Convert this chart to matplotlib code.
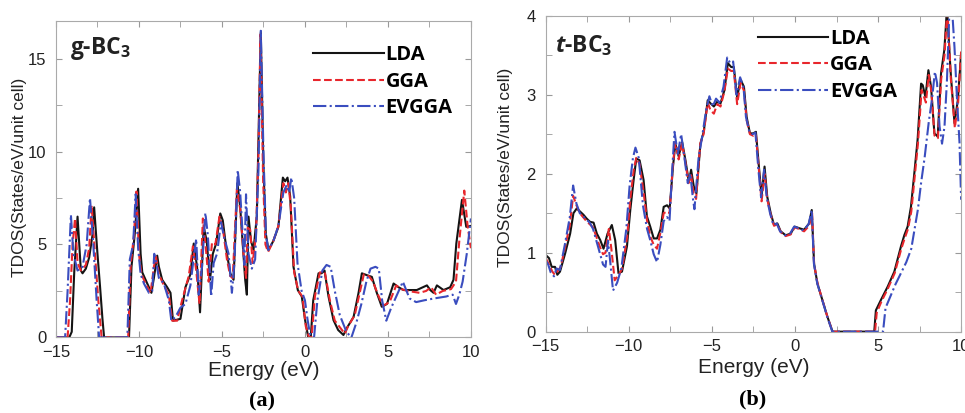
import numpy as np
import matplotlib
matplotlib.use("Agg")
import matplotlib.pyplot as plt
from matplotlib.ticker import MultipleLocator

plt.rcParams['font.family'] = ['Liberation Sans', 'DejaVu Sans']
plt.rcParams['mathtext.fontset'] = 'custom'
plt.rcParams['mathtext.rm'] = 'Open Sans:bold'
plt.rcParams['mathtext.bf'] = 'Open Sans:bold'
plt.rcParams['mathtext.it'] = 'Open Sans:italic:bold'

# ---- g-BC3 total DOS ----
e_lda_a = [-15.0, -14.2, -14.05, -13.9, -13.7, -13.5, -13.4, -13.2, -13.0, -12.8, -12.7, -12.5, -12.35, -12.2, -12.1,
           -10.6, -10.45, -10.25, -10.05, -9.9, -9.8, -9.55, -9.25, -9.1, -8.9, -8.8, -8.6, -8.3, -8.1, -7.95,
           -7.5, -7.2, -6.9, -6.7, -6.5, -6.32, -6.1, -5.92, -5.72, -5.55, -5.35, -5.1, -4.95, -4.7, -4.5,
           -4.3, -4.07, -3.9, -3.6, -3.5, -3.4, -3.25, -3.1, -2.9, -2.78, -2.66, -2.5, -2.36, -2.2, -1.9,
           -1.6, -1.33, -1.19, -1.05, -0.89, -0.69, -0.43, -0.19, 0.01, 0.2, 0.35, 0.5, 0.82, 1.0, 1.18,
           1.42, 1.72, 2.0, 2.32, 2.52, 2.93, 3.23, 3.43, 3.73, 4.03, 4.33, 4.63, 4.94, 5.34, 5.64,
           5.94, 6.74, 7.35, 7.55, 7.75, 7.95, 8.35, 8.75, 8.95, 9.12, 9.46, 9.72, 10.0]
d_lda_a = [0, 0, 0.3, 3.5, 6.5, 3.6, 3.45, 3.7, 4.3, 5.5, 7.0, 4.5, 2.8, 1.0, 0,
           0, 3.8, 5.6, 8.0, 4.5, 3.5, 3.0, 2.4, 3.2, 4.4, 3.8, 3.1, 2.7, 2.4, 0.9,
           1.0, 2.7, 3.4, 5.05, 3.8, 1.35, 5.95, 5.2, 3.1, 4.5, 5.05, 6.67, 6.3, 4.5, 3.45,
           3.1, 8.3, 7.0, 3.1, 2.3, 6.5, 5.2, 4.7, 6.5, 11.5, 16.4, 9.2, 5.6, 4.7, 5.2,
           5.95, 8.6, 8.4, 8.6, 7.6, 3.8, 2.55, 2.2, 0.93, 0, 0, 2.0, 3.45, 3.45, 3.6,
           2.2, 0.93, 0.4, 0.13, 0.5, 1.1, 2.4, 3.45, 3.35, 3.26, 2.4, 1.65, 1.8, 2.9, 2.7,
           2.55, 2.55, 2.8, 2.55, 2.4, 2.8, 2.55, 2.7, 3.1, 5.05, 7.4, 5.95, 6.0]

e_gga_a = [-15.0, -14.3, -14.15, -14.0, -13.85, -13.7, -13.5, -13.2, -13.0, -12.85, -12.65, -12.45, -12.25,
           -10.65, -10.5, -10.3, -10.15, -10.0, -9.85, -9.6, -9.3, -9.1, -8.98, -8.8, -8.5, -8.2, -8.0,
           -7.7, -7.4, -7.0, -6.75, -6.55, -6.35, -6.15, -5.95, -5.8, -5.6, -5.4, -5.15, -4.95, -4.7,
           -4.5, -4.35, -4.1, -3.9, -3.7, -3.55, -3.45, -3.3, -3.15, -2.95, -2.8, -2.68, -2.52, -2.38,
           -2.22, -1.9, -1.6, -1.3, -1.15, -1.0, -0.85, -0.65, -0.4, -0.15, 0.05, 0.25, 0.4, 0.6, 0.9,
           1.2, 1.5, 1.8, 2.4, 2.6, 3.0, 3.35, 3.55, 3.85, 4.1, 4.4, 4.7, 5.1, 5.5, 5.8, 6.2, 6.9,
           7.3, 7.6, 7.9, 8.3, 8.8, 9.1, 9.3, 9.6, 9.8, 10.0]
d_gga_a = [0, 0, 2.0, 5.0, 6.4, 4.0, 3.6, 3.9, 4.8, 7.1, 4.5, 2.0, 0,
           0, 3.9, 5.5, 7.85, 4.5, 3.4, 2.9, 2.4, 3.8, 4.35, 3.4, 2.8, 2.3, 0.9,
           0.9, 2.0, 3.3, 4.9, 3.6, 1.8, 6.4, 4.6, 3.0, 5.1, 5.0, 6.5, 5.9, 4.2,
           3.3, 3.2, 8.0, 6.9, 4.5, 3.2, 5.9, 5.8, 4.0, 5.5, 10.0, 16.3, 8.5, 5.0,
           4.6, 5.2, 6.0, 8.3, 7.8, 8.3, 7.0, 3.5, 2.5, 2.2, 0.6, 0, 0, 2.2, 3.5,
           3.5, 2.0, 0.9, 0.2, 0.6, 1.2, 2.6, 3.4, 3.3, 3.0, 2.3, 1.7, 1.9, 2.8, 2.6, 2.5, 2.4,
           2.5, 2.7, 2.3, 2.5, 2.6, 3.0, 5.2, 7.9, 6.0, 4.8]

e_ev_a = [-15.0, -14.45, -14.3, -14.1, -13.95, -13.7, -13.4, -13.15, -12.95, -12.75, -12.55, -12.4,
          -10.7, -10.55, -10.35, -10.2, -10.05, -9.9, -9.7, -9.4, -9.2, -9.08, -8.95, -8.8, -8.5, -8.2,
          -8.05, -7.8, -7.5, -7.2, -6.9, -6.7, -6.55, -6.4, -6.2, -6.0, -5.85, -5.65, -5.5, -5.3, -5.05,
          -4.9, -4.6, -4.4, -4.25, -4.05, -3.9, -3.75, -3.65, -3.55, -3.4, -3.2, -3.0, -2.8, -2.66, -2.5,
          -2.35, -2.2, -1.9, -1.6, -1.3, -1.1, -0.95, -0.82, -0.65, -0.45, -0.2, 0.0, 0.15, 0.3, 0.55,
          0.75, 1.05, 1.3, 1.55, 1.8, 2.1, 2.5, 2.8, 3.1, 3.4, 3.7, 3.95, 4.25, 4.45, 4.65, 4.9, 5.2,
          5.5, 5.9, 6.3, 6.7, 7.2, 7.8, 8.5, 8.9, 9.1, 9.3, 9.5, 9.75, 10.0]
d_ev_a = [0, 0, 2.5, 6.6, 4.5, 3.6, 3.8, 5.0, 7.5, 5.0, 2.0, 0,
          0, 4.2, 5.0, 7.7, 4.8, 3.4, 2.9, 2.4, 2.5, 4.5, 4.0, 3.2, 2.9, 2.0,
          0.9, 1.1, 1.6, 1.8, 2.8, 4.3, 5.3, 2.3, 3.8, 6.7, 5.5, 2.2, 4.0, 4.5, 6.2,
          5.5, 4.5, 2.4, 4.0, 9.0, 7.8, 5.5, 3.9, 7.7, 4.5, 3.7, 4.2, 9.0, 16.5, 10.0,
          5.5, 4.7, 5.2, 6.0, 7.8, 8.2, 7.8, 8.6, 7.5, 4.0, 2.5, 2.0, 1.0, 0.2, 0,
          2.0, 3.6, 3.9, 3.8, 2.5, 1.2, 0.3, 0.0, 0.8, 1.8, 3.0, 3.7, 3.8, 3.7, 2.0, 0.9, 1.6,
          2.2, 3.0, 2.1, 1.9, 2.0, 2.1, 2.2, 2.3, 1.8, 2.3, 3.0, 4.5, 6.4]

# ---- t-BC3 total DOS ----
e_lda_b = [-15.0, -14.8, -14.64, -14.44, -14.3, -14.14, -13.83, -13.53, -13.33, -13.13, -12.93, -12.73, -12.53,
           -12.33, -12.12, -11.92, -11.72, -11.52, -11.28, -11.02, -10.82, -10.62, -10.41, -10.11, -9.91, -9.71,
           -9.55, -9.35, -9.11, -8.91, -8.71, -8.5, -8.3, -8.1, -7.9, -7.7, -7.54, -7.34, -7.2, -7.0, -6.79,
           -6.59, -6.39, -6.25, -6.09, -5.93, -5.69, -5.49, -5.25, -5.08, -4.88, -4.68, -4.48, -4.24, -4.04,
           -3.84, -3.68, -3.48, -3.27, -3.07, -2.91, -2.71, -2.51, -2.35, -2.17, -2.01, -1.83, -1.67, -1.46,
           -1.26, -1.06, -0.86, -0.56, -0.26, -0.02, 0.25, 0.55, 0.85, 1.01, 1.15, 1.35, 1.65, 1.95, 2.26,
           4.77, 4.87, 5.17, 5.58, 5.98, 6.38, 6.58, 6.78, 6.98, 7.18, 7.38, 7.59, 7.69, 7.85, 8.03, 8.19,
           8.39, 8.59, 8.79, 8.99, 9.15, 9.36, 9.6, 9.8, 10.0]
d_lda_b = [0.97, 0.93, 0.82, 0.82, 0.72, 0.76, 0.99, 1.24, 1.5, 1.56, 1.52, 1.48, 1.43,
           1.39, 1.38, 1.24, 1.16, 1.05, 1.24, 1.35, 1.16, 0.74, 0.76, 1.08, 1.54, 1.92,
           2.19, 2.17, 1.92, 1.46, 1.33, 1.18, 1.18, 1.29, 1.58, 1.6, 1.56, 2.09, 2.38, 2.22, 2.4,
           2.17, 1.9, 2.05, 1.84, 1.75, 2.38, 2.53, 2.93, 2.89, 2.85, 2.91, 2.89, 3.06, 3.4,
           3.35, 3.35, 2.97, 3.19, 3.1, 2.72, 2.51, 2.51, 2.53, 2.09, 1.71, 2.09, 1.71, 1.5,
           1.35, 1.37, 1.27, 1.22, 1.24, 1.33, 1.31, 1.29, 1.37, 1.54, 0.86, 0.61, 0.4, 0.19, 0,
           0, 0.27, 0.4, 0.57, 0.76, 1.08, 1.22, 1.33, 1.58, 2.0, 2.43, 3.14, 3.12, 2.97, 3.31, 3.1,
           2.51, 2.47, 3.27, 3.57, 4.1, 3.31, 2.64, 2.93, 3.52]

e_gga_b = [-15.0, -14.8, -14.6, -14.45, -14.3, -14.1, -13.85, -13.55, -13.35, -13.15, -12.95, -12.75, -12.55,
           -12.35, -12.15, -11.95, -11.75, -11.55, -11.4, -11.2, -11.05, -10.85, -10.6, -10.4, -10.1, -9.9,
           -9.7, -9.55, -9.35, -9.1, -8.9, -8.7, -8.5, -8.3, -8.1, -7.9, -7.7, -7.55, -7.35, -7.2, -7.0,
           -6.8, -6.6, -6.4, -6.25, -6.1, -5.95, -5.7, -5.5, -5.25, -5.08, -4.88, -4.68, -4.48, -4.24,
           -4.04, -3.84, -3.68, -3.48, -3.27, -3.07, -2.91, -2.71, -2.51, -2.35, -2.17, -2.01, -1.83, -1.67,
           -1.46, -1.26, -1.06, -0.86, -0.56, -0.26, -0.02, 0.25, 0.55, 0.85, 1.03, 1.15, 1.35, 1.65, 1.95,
           2.26, 4.82, 4.92, 5.2, 5.6, 6.0, 6.4, 6.6, 6.8, 7.0, 7.2, 7.4, 7.62, 7.72, 7.88, 8.05, 8.2,
           8.4, 8.6, 8.8, 9.0, 9.17, 9.38, 9.62, 9.82, 10.0]
d_gga_b = [0.93, 0.85, 0.76, 0.72, 0.76, 0.82, 1.05, 1.35, 1.72, 1.6, 1.5, 1.45, 1.4,
           1.36, 1.32, 1.2, 1.08, 0.98, 1.0, 1.3, 1.05, 0.65, 0.72, 0.8, 1.2, 1.7,
           2.05, 2.2, 2.12, 1.75, 1.4, 1.2, 1.1, 1.05, 1.25, 1.5, 1.52, 1.5, 2.1, 2.4, 2.18,
           2.38, 2.15, 1.88, 1.98, 1.75, 1.68, 2.38, 2.5, 2.9, 2.8, 2.76, 2.88, 2.85, 3.05,
           3.33, 3.3, 3.3, 2.88, 3.15, 3.05, 2.68, 2.5, 2.48, 2.5, 2.05, 1.65, 2.0, 1.68,
           1.48, 1.34, 1.36, 1.26, 1.21, 1.23, 1.32, 1.3, 1.27, 1.34, 1.5, 0.86, 0.62, 0.4, 0.19,
           0, 0, 0.24, 0.38, 0.55, 0.74, 1.05, 1.18, 1.3, 1.52, 1.95, 2.38, 3.06, 3.0, 2.9, 3.25, 3.05,
           2.48, 2.45, 3.2, 3.5, 4.1, 3.2, 2.58, 2.9, 3.55]

e_ev_b = [-15.0, -14.85, -14.7, -14.5, -14.35, -14.15, -13.85, -13.55, -13.35, -13.15, -12.95, -12.75, -12.55,
          -12.35, -12.15, -11.95, -11.75, -11.55, -11.4, -11.25, -11.1, -10.95, -10.7, -10.45, -10.15, -9.95,
          -9.75, -9.6, -9.4, -9.15, -8.9, -8.7, -8.5, -8.3, -8.1, -7.9, -7.7, -7.55, -7.4, -7.25, -7.05,
          -6.85, -6.65, -6.45, -6.3, -6.15, -6.05, -5.8, -5.6, -5.35, -5.15, -4.95, -4.75, -4.55, -4.3,
          -4.08, -3.9, -3.72, -3.52, -3.3, -3.1, -2.95, -2.75, -2.55, -2.38, -2.2, -2.04, -1.86, -1.7,
          -1.5, -1.3, -1.1, -0.9, -0.6, -0.3, -0.05, 0.22, 0.52, 0.82, 1.01, 1.14, 1.34, 1.64, 1.94,
          2.25, 5.3, 5.45, 5.75, 6.05, 6.4, 6.7, 7.0, 7.2, 7.4, 7.6, 7.8, 8.05, 8.25, 8.42, 8.55, 8.7,
          8.85, 9.0, 9.15, 9.3, 9.45, 9.6, 9.75, 9.9, 10.0]
d_ev_b = [0.9, 0.85, 0.75, 0.7, 0.8, 0.78, 1.1, 1.45, 1.85, 1.62, 1.5, 1.46, 1.42,
          1.38, 1.3, 1.15, 1.0, 0.85, 0.82, 1.15, 0.85, 0.52, 0.62, 0.8, 1.3, 1.85,
          2.2, 2.33, 2.2, 1.6, 1.3, 1.15, 0.98, 0.88, 1.1, 1.4, 1.45, 1.4, 2.0, 2.53, 2.25,
          2.5, 2.2, 1.88, 2.0, 1.7, 1.55, 2.2, 2.45, 2.8, 2.98, 2.85, 2.95, 2.9, 3.1,
          3.47, 3.4, 3.42, 3.0, 3.22, 3.1, 2.72, 2.53, 2.5, 2.52, 2.05, 1.7, 2.05, 1.7,
          1.5, 1.35, 1.37, 1.27, 1.22, 1.24, 1.33, 1.31, 1.28, 1.36, 1.54, 0.86, 0.61, 0.4, 0.19,
          0, 0, 0.3, 0.45, 0.6, 0.75, 0.88, 1.05, 1.3, 1.55, 1.9, 2.2, 2.65, 2.95, 3.29, 3.15, 2.6,
          2.38, 2.6, 3.2, 4.1, 4.1, 3.6, 2.95, 2.4, 1.67]

labels = ['LDA', 'GGA', 'EVGGA']
colors = ['#141414', '#e8262c', '#3a4dbf']
styles = ['-', '--', '-.']

fig = plt.figure(figsize=(9.65, 4.13), dpi=100)
ax1 = fig.add_axes([0.058, 0.183, 0.430, 0.765])
ax2 = fig.add_axes([0.5655, 0.197, 0.4305, 0.765])

panels = [
    (ax1, [(e_lda_a, d_lda_a), (e_gga_a, d_gga_a), (e_ev_a, d_ev_a)], 17, 5, 2.5),
    (ax2, [(e_lda_b, d_lda_b), (e_gga_b, d_gga_b), (e_ev_b, d_ev_b)], 4, 1, 0.5),
]

for ax, series, ytop, ymaj, ymin in panels:
    for (e, d), lab, c, ls in zip(series, labels, colors, styles):
        ax.plot(e, d, ls, color=c, lw=1.5, label=lab)
    ax.set_xlim(-15, 10)
    ax.set_ylim(0, ytop)
    ax.xaxis.set_major_locator(MultipleLocator(5))
    ax.xaxis.set_minor_locator(MultipleLocator(2.5))
    ax.yaxis.set_major_locator(MultipleLocator(ymaj))
    ax.yaxis.set_minor_locator(MultipleLocator(ymin))
    ax.tick_params(which='both', direction='in', top=True, right=True, color='#999999',
                   length=4, labelsize=12, labelcolor='#222222')
    ax.tick_params(axis='x', pad=5.5)
    ax.tick_params(axis='y', pad=7)
    for s in ax.spines.values():
        s.set_color('#aaaaaa')
        s.set_linewidth(0.8)
    ax.set_xlabel('Energy (eV)', fontsize=15, color='#222222')
    ax.set_ylabel('TDOS(States/eV/unit cell)', fontsize=12.5, color='#222222')
    ax.legend(loc='upper left', frameon=False, handlelength=3.5, handletextpad=0.1,
              labelspacing=0.32, borderpad=0, borderaxespad=0,
              prop={'family': 'Open Sans', 'weight': 'bold', 'size': 14.5})

ax1.xaxis.set_label_coords(0.5, -0.075)
ax1.yaxis.set_label_coords(-0.07, 0.508)
ax2.xaxis.set_label_coords(0.5, -0.082)
ax2.yaxis.set_label_coords(-0.079, 0.52)

ax1.get_legend().set_bbox_to_anchor((0.62, 0.925), transform=ax1.transAxes)
ax2.get_legend().set_bbox_to_anchor((0.51, 0.958), transform=ax2.transAxes)

ax1.text(0.035, 0.915, r'g-BC$_\mathbf{3}$', transform=ax1.transAxes, fontsize=16.5,
         fontfamily='Open Sans', fontweight='bold', color='#222222', va='center')
ax2.text(0.022, 0.905, r'$\mathit{t}$-BC$_\mathbf{3}$', transform=ax2.transAxes, fontsize=16.5,
         fontfamily='Open Sans', fontweight='bold', color='#222222', va='center')

fig.text(0.2715, 0.027, '(a)', fontsize=16, fontweight='bold', fontfamily='Liberation Serif',
         ha='center', va='center')
fig.text(0.780, 0.032, '(b)', fontsize=16, fontweight='bold', fontfamily='Liberation Serif',
         ha='center', va='center')

fig.savefig('out.png', dpi=100)
